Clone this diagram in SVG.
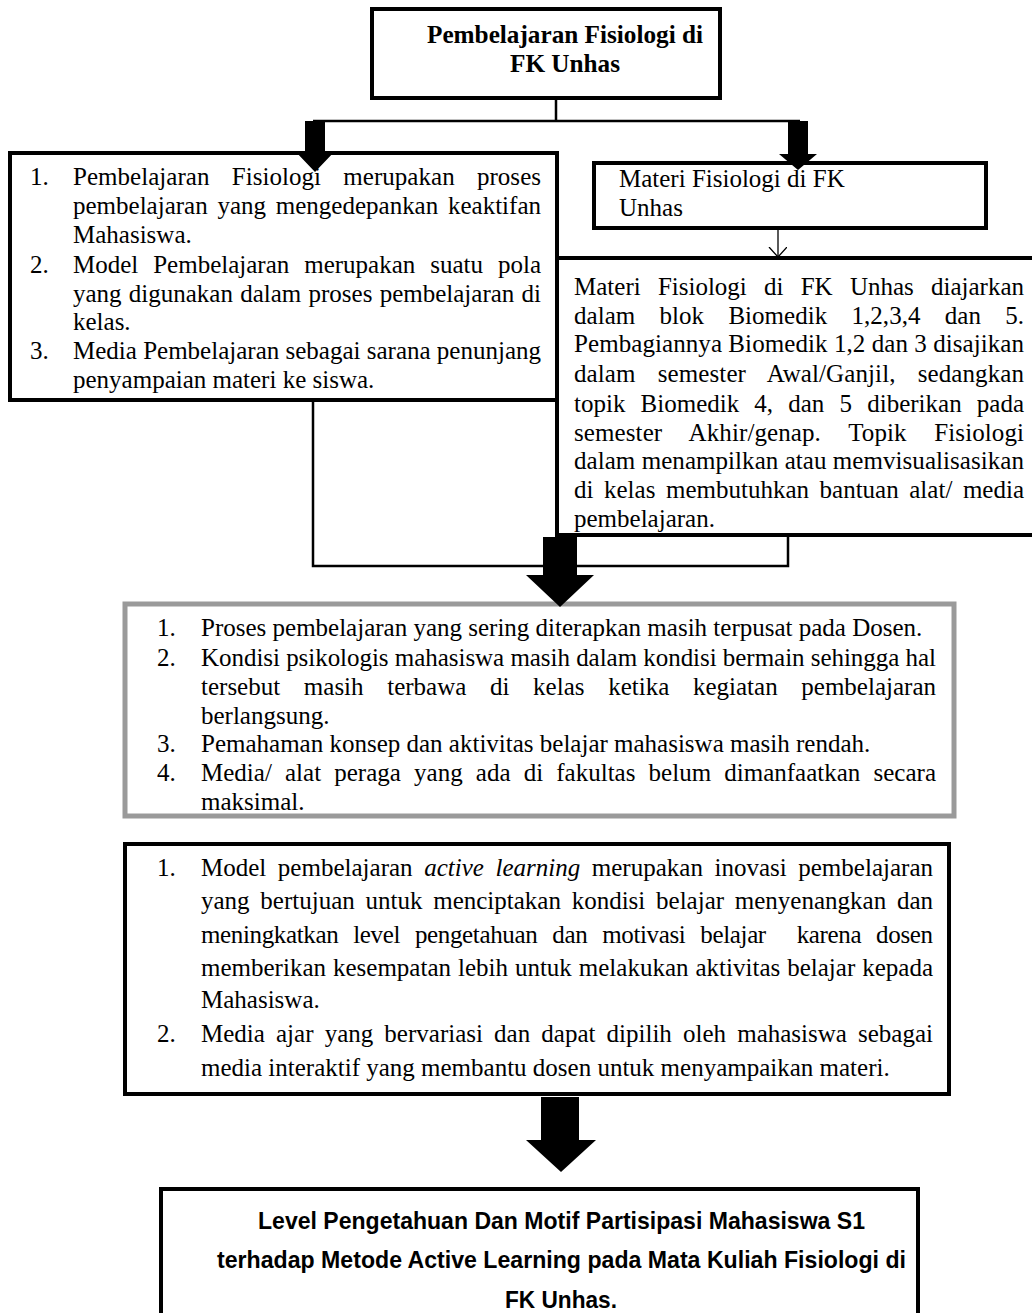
<svg xmlns="http://www.w3.org/2000/svg" width="1032" height="1313" viewBox="0 0 1032 1313">
<defs>
<style>
.box{fill:#fff;stroke:#000;stroke-width:4}
.gbox{fill:#fff;stroke:#9a9a9a;stroke-width:5}
.t{font-family:"Liberation Serif","Times New Roman",serif;font-size:25px;fill:#000}
.tb{font-family:"Liberation Serif","Times New Roman",serif;font-size:25px;font-weight:bold;fill:#000}
.s{font-family:"Liberation Sans Narrow","Liberation Sans",Arial,sans-serif;font-size:24px;font-weight:bold;fill:#000}
.ln{fill:none;stroke:#000;stroke-width:2.5}
.blk{fill:#000}
</style>
<marker id="open" markerWidth="12" markerHeight="20" refX="10" refY="9" orient="auto" markerUnits="userSpaceOnUse">
<path d="M0,0 L10,9 L0,18" fill="none" stroke="#000" stroke-width="1.3"/>
</marker>
</defs>
<rect width="1032" height="1313" fill="#fff"/>

<g id="node-title">
<rect class="box" x="372" y="9" width="348" height="89"/>
<text class="tb" x="427" y="43" textLength="276" lengthAdjust="spacingAndGlyphs">Pembelajaran Fisiologi di</text>
<text class="tb" x="510" y="72" textLength="110" lengthAdjust="spacingAndGlyphs">FK Unhas</text>
</g>

<g id="node-left">
<rect class="box" x="10" y="153" width="547" height="247"/>
<text class="t" x="30" y="185">1.</text>
<text class="t" x="73" y="185" word-spacing="16" textLength="468" lengthAdjust="spacing">Pembelajaran Fisiologi merupakan proses</text>
<text class="t" x="73" y="214" word-spacing="3.5" textLength="468" lengthAdjust="spacing">pembelajaran yang mengedepankan keaktifan</text>
<text class="t" x="73" y="243">Mahasiswa.</text>
<text class="t" x="30" y="273">2.</text>
<text class="t" x="73" y="273" word-spacing="8.7" textLength="468" lengthAdjust="spacing">Model Pembelajaran merupakan suatu pola</text>
<text class="t" x="73" y="302" word-spacing="1" textLength="468" lengthAdjust="spacing">yang digunakan dalam proses pembelajaran di</text>
<text class="t" x="73" y="330">kelas.</text>
<text class="t" x="30" y="359">3.</text>
<text class="t" x="73" y="359" textLength="468" lengthAdjust="spacing">Media Pembelajaran sebagai sarana penunjang</text>
<text class="t" x="73" y="388">penyampaian  materi ke siswa.</text>
</g>

<g id="node-materi">
<rect class="box" x="594" y="163" width="392" height="65"/>
<text class="t" x="619" y="187">Materi Fisiologi di FK</text>
<text class="t" x="619" y="216">Unhas</text>
</g>

<g id="node-materi-detail">
<rect class="box" x="557" y="258" width="485" height="277"/>
<text class="t" x="574" y="295" word-spacing="11" textLength="450" lengthAdjust="spacing">Materi Fisiologi di FK Unhas diajarkan</text>
<text class="t" x="574" y="324" word-spacing="18" textLength="450" lengthAdjust="spacing">dalam blok Biomedik 1,2,3,4 dan 5.</text>
<text class="t" x="574" y="352" textLength="450" lengthAdjust="spacing">Pembagiannya Biomedik 1,2 dan 3 disajikan</text>
<text class="t" x="574" y="382" word-spacing="15.8" textLength="450" lengthAdjust="spacing">dalam semester Awal/Ganjil, sedangkan</text>
<text class="t" x="574" y="412" word-spacing="8.9" textLength="450" lengthAdjust="spacing">topik Biomedik 4, dan 5 diberikan pada</text>
<text class="t" x="574" y="441" word-spacing="21.3" textLength="450" lengthAdjust="spacing">semester Akhir/genap. Topik Fisiologi</text>
<text class="t" x="574" y="469" textLength="450" lengthAdjust="spacing">dalam menampilkan atau memvisualisasikan</text>
<text class="t" x="574" y="498" word-spacing="4.3" textLength="450" lengthAdjust="spacing">di kelas membutuhkan bantuan alat/ media</text>
<text class="t" x="574" y="527">pembelajaran.</text>
</g>

<g id="node-problems">
<rect class="gbox" x="125" y="604" width="829" height="212"/>
<text class="t" x="157" y="636">1.</text>
<text class="t" x="201" y="636">Proses pembelajaran yang sering diterapkan masih terpusat pada Dosen.</text>
<text class="t" x="157" y="666">2.</text>
<text class="t" x="201" y="666" textLength="735" lengthAdjust="spacing">Kondisi psikologis mahasiswa masih dalam kondisi bermain sehingga hal</text>
<text class="t" x="201" y="695" word-spacing="17.4" textLength="735" lengthAdjust="spacing">tersebut masih terbawa di kelas ketika kegiatan pembelajaran</text>
<text class="t" x="201" y="724">berlangsung.</text>
<text class="t" x="157" y="752">3.</text>
<text class="t" x="201" y="752">Pemahaman konsep dan aktivitas belajar mahasiswa masih rendah.</text>
<text class="t" x="157" y="781">4.</text>
<text class="t" x="201" y="781" word-spacing="6.9" textLength="735" lengthAdjust="spacing">Media/ alat peraga yang ada di fakultas belum dimanfaatkan secara</text>
<text class="t" x="201" y="810">maksimal.</text>
</g>

<g id="node-solution">
<rect class="box" x="125" y="844" width="824" height="250"/>
<text class="t" x="157" y="876">1.</text>
<text class="t" x="201" y="876" word-spacing="5.3" textLength="732" lengthAdjust="spacing">Model pembelajaran <tspan font-style="italic">active learning</tspan> merupakan inovasi pembelajaran</text>
<text class="t" x="201" y="909" word-spacing="4.5" textLength="732" lengthAdjust="spacing">yang bertujuan untuk menciptakan kondisi belajar menyenangkan dan</text>
<text class="t" x="201" y="943" word-spacing="9" textLength="732" lengthAdjust="spacing">meningkatkan level pengetahuan dan motivasi belajar <tspan dx="16">karena</tspan> dosen</text>
<text class="t" x="201" y="976" word-spacing="0.7" textLength="732" lengthAdjust="spacing">memberikan kesempatan lebih untuk melakukan aktivitas belajar kepada</text>
<text class="t" x="201" y="1008">Mahasiswa.</text>
<text class="t" x="157" y="1042">2.</text>
<text class="t" x="201" y="1042" word-spacing="4.9" textLength="732" lengthAdjust="spacing">Media ajar yang bervariasi dan dapat dipilih oleh mahasiswa sebagai</text>
<text class="t" x="201" y="1076">media interaktif yang membantu dosen untuk menyampaikan materi.</text>
</g>

<g id="node-outcome">
<rect class="box" x="161" y="1189" width="757" height="140"/>
<text class="s" x="258" y="1229" textLength="607" lengthAdjust="spacingAndGlyphs">Level Pengetahuan Dan Motif Partisipasi Mahasiswa S1</text>
<text class="s" x="217" y="1268" textLength="689" lengthAdjust="spacingAndGlyphs">terhadap Metode Active Learning pada Mata Kuliah Fisiologi di</text>
<text class="s" x="505" y="1308" textLength="112" lengthAdjust="spacingAndGlyphs">FK Unhas.</text>
</g>

<g id="connectors">
<path class="ln" d="M556,98 V121 M313,121 H800"/>
<polygon class="blk" points="305,121 325,121 325,151 335,151 315,172 295,151 305,151"/>
<polygon class="blk" points="788,121 808,121 808,154 817,154 798,170 779,154 788,154"/>
<line x1="778" y1="228" x2="778" y2="257" stroke="#000" stroke-width="1.3" marker-end="url(#open)"/>
<path class="ln" d="M313,400 V566 H788 V535"/>
<polygon class="blk" points="543,537 577,537 577,575 594,575 560,607 526,575 543,575"/>
<polygon class="blk" points="541,1097 579,1097 579,1140 596,1140 561,1172 526,1140 541,1140"/>
</g>
</svg>
